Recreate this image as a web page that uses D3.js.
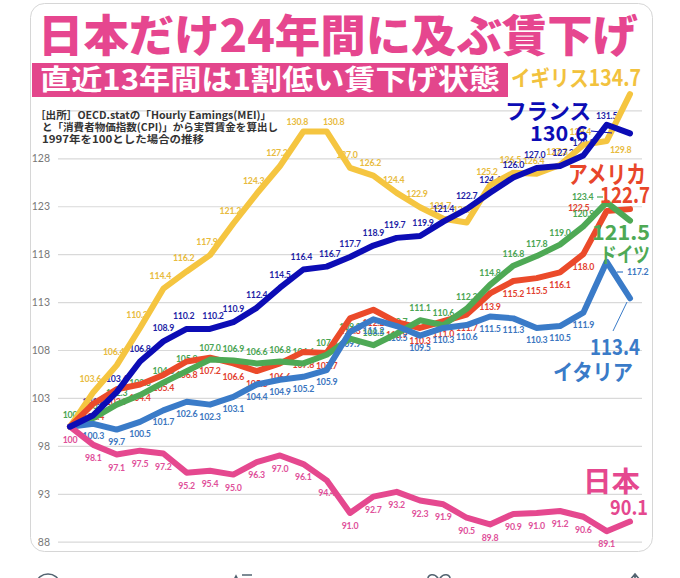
<!DOCTYPE html>
<html><head><meta charset="utf-8">
<script src="https://cdn.jsdelivr.net/npm/d3@7"></script>
<style>body{margin:0;background:#fff}svg{display:block}</style></head>
<body><svg id="c" width="680" height="578"></svg>
<script>
const years=[1997,1998,1999,2000,2001,2002,2003,2004,2005,2006,2007,2008,2009,2010,2011,2012,2013,2014,2015,2016,2017,2018,2019,2020,2021];
const yTicks=[88,93,98,103,108,113,118,123,128,133];
const japan=[100,98.1,97.1,97.5,97.2,95.2,95.4,95.0,96.3,97.0,96.1,94.4,91.0,92.7,93.2,92.3,91.9,90.5,89.8,90.9,91.0,91.2,90.6,89.1,90.1];
const italy=[100,100.3,99.7,100.5,101.7,102.6,102.3,103.1,104.4,104.9,105.2,105.9,109.9,111.2,110.5,109.5,110.3,110.6,111.5,111.3,110.3,110.5,111.9,117.2,113.4];
const germany=[100,100.9,102.3,103.3,104.6,105.8,107.0,106.9,106.6,106.8,106.6,107.5,109.2,108.5,109.7,111.1,110.6,112.3,114.8,116.8,117.8,119.0,120.9,123.4,121.5];
const usa=[100,102.4,103.9,104.4,105.4,106.8,107.2,106.6,105.8,106.6,107.8,107.7,111.3,112.2,110.9,110.3,111.0,111.7,113.9,115.2,115.5,116.1,118.0,122.5,122.7];
const uk=[100,103.6,106.4,110.3,114.4,116.2,117.9,121.2,124.3,127.2,130.8,130.8,127.0,126.2,124.4,122.9,121.7,121.3,125.2,126.5,126.4,127.3,129.4,129.8,134.7];
const france=[100,101.2,103.6,106.8,108.9,110.2,110.2,110.9,112.4,114.5,116.4,116.7,117.7,118.9,119.7,119.9,121.4,122.7,124.4,126.0,127.0,127.2,128.3,131.5,130.6];

const svg=d3.select("#c");
const FONT="Lato, 'Noto Sans CJK JP', sans-serif";
const JP="'Noto Sans CJK JP', sans-serif";

// panel
svg.append("rect").attr("x",30.5).attr("y",3.5).attr("width",622).attr("height",548).attr("rx",14)
  .attr("fill","#fff").attr("stroke","#d6d6d6");

const x=d3.scalePoint().domain(years).range([70,630]);
const y=d3.scaleLinear().domain([88,133]).range([541.7,110.4]);

// y axis with gridlines
const ya=svg.append("g").attr("transform","translate(58,0)")
  .call(d3.axisLeft(y).tickValues(yTicks).tickSize(-584).tickPadding(8).tickFormat(d=>d===133?"":d));
ya.select(".domain").remove();
ya.selectAll(".tick line").attr("stroke","#d9d9d9").attr("stroke-width",1.2);
ya.selectAll(".tick text").attr("fill","#777").attr("font-size",10.5).attr("font-family",FONT);

// clipped x axis labels
svg.append("clipPath").attr("id","xc").append("rect").attr("x",0).attr("y",540).attr("width",680).attr("height",15);
const xa=svg.append("g").attr("clip-path","url(#xc)").append("g").attr("transform","translate(0,549)")
  .call(d3.axisBottom(x).tickSize(0).tickPadding(10));
xa.select(".domain").remove();
xa.selectAll(".tick text").attr("fill","#444").attr("font-size",10).attr("font-weight","bold").attr("font-family",FONT);

const series=[
 {k:"uk",v:uk,c:"#f5c540",lc:"#e8bb3e",dx:-3,dy:-13},
 {k:"usa",v:usa,c:"#eb4a2a",lc:"#e23f30",dx:0,dy:13},
 {k:"germany",v:germany,c:"#4ea955",lc:"#4aa553",dx:0,dy:-12},
 {k:"italy",v:italy,c:"#3a7bc8",lc:"#3c76c0",dx:0,dy:12},
 {k:"japan",v:japan,c:"#e5488f",lc:"#e0509a",dx:0,dy:13},
 {k:"france",v:france,c:"#0c0cb5",lc:"#1f1fa6",dx:0,dy:-13}
];
const over={
 "uk-23":[14,9],"usa-23":[-28,-3],"germany-23":[-24,-5],"italy-23":[31,10],"france-23":[0,-9],
 "germany-0":[0,-12],"japan-0":[0,13],"uk-10":[-6,-10],"uk-11":[7,-10],
 "france-5":[-3,-13],"france-6":[3,-13],"france-14":[-2,-13],"france-15":[3,-13],
 "france-10":[-2,-13],"france-11":[3,-13],"france-20":[-2,-13],"france-21":[3,-13]
};
const skip0=new Set(["uk","usa","italy","france"]);

const gl=svg.append("g"), gLines=svg.append("g");
series.forEach(s=>{
  s.v.forEach((d,i)=>{
    if(i===s.v.length-1) return;
    if(i===0 && skip0.has(s.k)) return;
    const o=over[s.k+"-"+i]||[s.dx,s.dy];
    gl.append("text").attr("x",x(years[i])+o[0]).attr("y",y(d)+o[1]).attr("dy","0.35em")
      .attr("text-anchor","middle").attr("font-size",8.8).attr("font-weight","bold")
      .attr("letter-spacing",-0.2)
      .attr("font-family",FONT).attr("fill",s.lc)
      .text(i===0?d3.format("d")(d):d3.format(".1f")(d));
  });
});
const line=d3.line().x((d,i)=>x(years[i])).y(d=>y(d));
series.forEach(s=>{
  gLines.append("path").datum(s.v).attr("d",line).attr("fill","none").attr("stroke",s.c)
    .attr("stroke-width",6).attr("stroke-linejoin","round").attr("stroke-linecap","round");
});

// small leader marks
const L=(x1,y1,x2,y2,c,w)=>svg.append("line").attr("x1",x1).attr("y1",y1).attr("x2",x2).attr("y2",y2).attr("stroke",c).attr("stroke-width",w||1);
L(597,197,603,197,"#4ea955",1.2);
L(617,272,623,272,"#3a7bc8",1.2);
L(591,131,612,133,"#0c0cb5",1);
L(613,331,627,302,"#3a7bc8",1);

// title
svg.append("text").attr("x",38).attr("y",52).attr("font-family",JP).attr("font-weight",900)
  .attr("font-size",44).attr("fill","#e6468f").attr("textLength",600).attr("lengthAdjust","spacingAndGlyphs")
  .text("日本だけ24年間に及ぶ賃下げ");
svg.append("rect").attr("x",32).attr("y",63).attr("width",476).attr("height",34).attr("fill","#e3468c");
svg.append("text").attr("x",40).attr("y",90).attr("font-family",JP).attr("font-weight",700)
  .attr("font-size",28).attr("fill","#fff").attr("textLength",460).attr("lengthAdjust","spacingAndGlyphs")
  .text("直近13年間は1割低い賃下げ状態");

// note
const note=[["［出所］OECD.statの「Hourly Eamings(MEI)」",35,119,236],["と「消費者物価指数(CPI)」から実質賃金を算出し",42,131,236],["1997年を100とした場合の推移",42,143,162]];
note.forEach(n=>svg.append("text").attr("x",n[1]).attr("y",n[2]).attr("font-family",JP).attr("font-weight",700)
  .attr("font-size",10.5).attr("fill","#333").attr("textLength",n[3]).attr("lengthAdjust","spacingAndGlyphs").text(n[0]));

// callouts
const T=(t,x0,y0,fs,c,tl)=>{const e=svg.append("text").attr("x",x0).attr("y",y0).attr("font-family",JP).attr("font-weight",700)
  .attr("font-size",fs).attr("fill",c).text(t); if(tl) e.attr("textLength",tl).attr("lengthAdjust","spacingAndGlyphs"); return e;};
T("イギリス134.7",511,86,22,"#f2c23e",130);
T("フランス",505,119,22,"#0c0cb5",86);
T("130.6",530,141,21,"#0c0cb5",58);
T("アメリカ",568,183,24,"#e8462a",78);
T("122.7",600,203,22,"#e8462a",50);
T("121.5",592,240,21,"#4ea955",58);
T("ドイツ",600,262,21,"#4ea955",50);
T("113.4",590,355,22,"#3a7bc8",50);
T("イタリア",553,380,22,"#3a7bc8",80);
T("日本",583,492,28,"#e5488f",57);
T("90.1",610,515,20,"#e5488f",38);

// bottom tweet icons (partially visible)
const ic=svg.append("g").attr("fill","none").attr("stroke","#536471").attr("stroke-width",1.6);
ic.append("ellipse").attr("cx",48).attr("cy",583).attr("rx",11).attr("ry",9);
ic.append("path").attr("d","M232,584 L236,576 L240,584 M236,577 L236,586 M242,575 L252,575");
ic.append("path").attr("d","M439,580 C435,572 427,574 428,580 M439,580 C443,572 451,574 450,580");
ic.append("path").attr("d","M630,580 L635,574 L640,580 M635,575 L635,586");
</script></body></html>
